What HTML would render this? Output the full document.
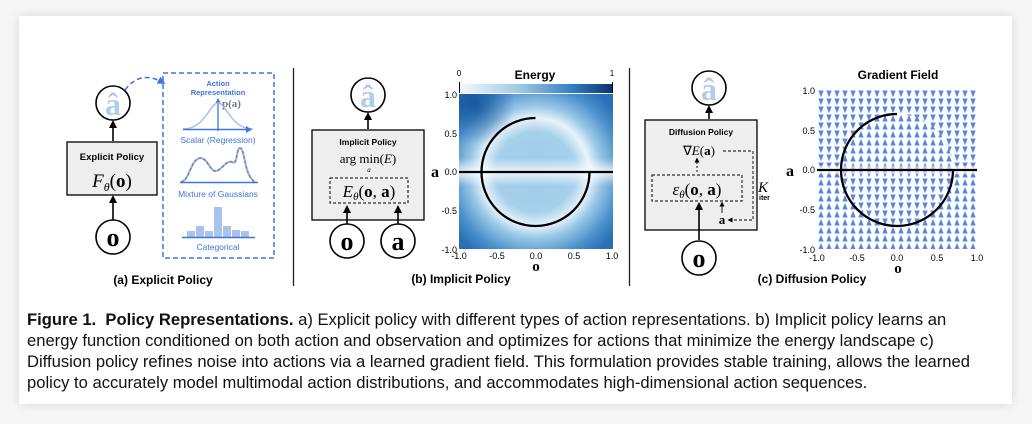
<!DOCTYPE html>
<html><head><meta charset="utf-8"><style>
html,body{margin:0;padding:0;background:#f6f6f6;}
body{width:1032px;height:424px;position:relative;overflow:hidden;font-family:"Liberation Sans",sans-serif;}
.card{position:absolute;left:19px;top:16px;width:993px;height:388px;background:#fff;box-shadow:0 0 10px rgba(0,0,0,0.12);}
.cap{position:absolute;left:27px;top:309px;width:985px;font-size:16.6px;line-height:21px;color:#111;white-space:nowrap;}
svg{position:absolute;left:0;top:0;}
.m{font-family:"Liberation Serif",serif;}
</style></head><body>
<div class="card"></div>
<svg width="1032" height="424" viewBox="0 0 1032 424">
<defs>
<marker id="ar" markerWidth="8" markerHeight="8" refX="4" refY="4" orient="auto" markerUnits="userSpaceOnUse"><path d="M0,0 L8,4 L0,8 z" fill="#000"/></marker>
<marker id="arb" markerWidth="8" markerHeight="8" refX="4" refY="4" orient="auto" markerUnits="userSpaceOnUse"><path d="M0,0 L8,4 L0,8 z" fill="#3b78d8"/></marker>
<marker id="ars" markerWidth="5" markerHeight="5" refX="2.5" refY="2.5" orient="auto" markerUnits="userSpaceOnUse"><path d="M0,0 L5,2.5 L0,5 z" fill="#000"/></marker>
<linearGradient id="cb" x1="0" x2="1"><stop offset="0" stop-color="#f4f9fd"/><stop offset="0.4" stop-color="#9dc8e4"/><stop offset="0.75" stop-color="#2f7bc0"/><stop offset="1" stop-color="#0a2f6b"/></linearGradient>
<radialGradient id="rg" cx="535.5" cy="172" r="100" gradientUnits="userSpaceOnUse">
<stop offset="0" stop-color="#9ccbe8"/><stop offset="0.4" stop-color="#a6d0ea"/><stop offset="0.54" stop-color="#e8f3fa"/><stop offset="0.66" stop-color="#9ac8e6"/><stop offset="0.85" stop-color="#4a90cc"/><stop offset="1" stop-color="#2a6fb5"/></radialGradient>
<linearGradient id="band" x1="0" y1="0" x2="0" y2="1"><stop offset="0" stop-color="#fff" stop-opacity="0"/><stop offset="0.5" stop-color="#fff" stop-opacity="0.8"/><stop offset="1" stop-color="#fff" stop-opacity="0"/></linearGradient>
<radialGradient id="tl" cx="475" cy="105" r="40" gradientUnits="userSpaceOnUse"><stop offset="0" stop-color="#124f96" stop-opacity="0.8"/><stop offset="1" stop-color="#124f96" stop-opacity="0"/></radialGradient>
<pattern id="pd" x="817" y="90" width="8" height="8" patternUnits="userSpaceOnUse"><path d="M1.3,0.5 L6.7,0.5 L4,7.3z" fill="#5b86d9"/></pattern>
<pattern id="pu" x="817" y="90" width="8" height="8" patternUnits="userSpaceOnUse"><path d="M1.3,7.5 L6.7,7.5 L4,0.7z" fill="#5b86d9"/></pattern>
<clipPath id="cup"><rect x="817" y="90" width="160" height="80"/></clipPath>
<clipPath id="clo"><rect x="817" y="170" width="160" height="79"/></clipPath>
<clipPath id="cen"><rect x="459" y="93" width="154" height="156"/></clipPath>
</defs>
<line x1="293.5" y1="68" x2="293.5" y2="286" stroke="#222" stroke-width="1.3"/>
<line x1="629.5" y1="68" x2="629.5" y2="286" stroke="#222" stroke-width="1.3"/>

<!-- Panel a -->
<circle cx="113" cy="103" r="17" fill="#fff" stroke="#000" stroke-width="1.6"/>
<text x="113" y="115" class="m" font-size="32" font-weight="bold" fill="#b3caef" text-anchor="middle">â</text>
<line x1="113" y1="141" x2="113" y2="124" stroke="#000" stroke-width="1.6" marker-end="url(#ar)"/>
<rect x="67" y="142" width="90" height="53" fill="#eeeeee" stroke="#000" stroke-width="1.3"/>
<text x="112" y="160" font-size="9.5" font-weight="bold" text-anchor="middle">Explicit Policy</text>
<text x="112" y="187" class="m" font-size="19" text-anchor="middle"><tspan font-style="italic">F</tspan><tspan font-size="12" font-style="italic" dy="4">θ</tspan><tspan dy="-4">(</tspan><tspan font-weight="bold">o</tspan>)</text>
<line x1="113" y1="220" x2="113" y2="199" stroke="#000" stroke-width="1.6" marker-end="url(#ar)"/>
<circle cx="113" cy="237" r="17" fill="#fff" stroke="#000" stroke-width="1.6"/>
<text x="113" y="246" class="m" font-size="26" font-weight="bold" text-anchor="middle">o</text>
<path d="M125,90 Q140,70 162,82" fill="none" stroke="#3b78d8" stroke-width="1.5" stroke-dasharray="5,3" marker-end="url(#arb)"/>
<rect x="163" y="73" width="111" height="185" fill="none" stroke="#3b78d8" stroke-width="1.5" stroke-dasharray="5,3"/>
<text x="218" y="86" font-size="7.5" font-weight="bold" fill="#3b78d8" text-anchor="middle">Action</text>
<text x="218" y="95" font-size="7.5" font-weight="bold" fill="#3b78d8" text-anchor="middle">Representation</text>
<line x1="218" y1="131" x2="218" y2="101" stroke="#3b78d8" stroke-width="1.3"/>
<path d="M215,104 L218,98 L221,104z" fill="#3b78d8"/>
<text x="222" y="107" class="m" font-size="11" font-weight="bold" fill="#777">p(a)</text>
<path d="M183,129 C205,129 210,103 218,103 C226,103 231,129 253,129" fill="none" stroke="#9fbcec" stroke-width="1.4"/>
<line x1="183" y1="129.5" x2="248" y2="129.5" stroke="#3b78d8" stroke-width="1.6"/>
<path d="M246,126 L252,129.5 L246,133z" fill="#3b78d8"/>
<text x="218" y="143" font-size="8.5" fill="#3b78d8" text-anchor="middle">Scalar (Regression)</text>
<path d="M181,182 C190,180 190,160 200,158 C208,158 210,172 216,171 C222,170 226,160 232,162 C238,166 236,148 240,148 C245,148 244,176 255,182" fill="none" stroke="#9fbcec" stroke-width="2.2"/>
<path d="M181,182 C190,180 190,160 200,158 C208,158 210,172 216,171 C222,170 226,160 232,162 C238,166 236,148 240,148 C245,148 244,176 255,182" fill="none" stroke="#777" stroke-width="1.1" stroke-dasharray="3,2"/>
<line x1="180" y1="182.5" x2="258" y2="182.5" stroke="#3b78d8" stroke-width="1.6"/>
<text x="218" y="197" font-size="8.5" fill="#3b78d8" text-anchor="middle">Mixture of Gaussians</text>
<g fill="#a9c3ec"><rect x="187" y="231" width="8" height="6"/><rect x="196" y="226" width="8" height="11"/><rect x="205" y="231" width="8" height="6"/><rect x="214" y="207" width="8" height="30"/><rect x="223" y="226" width="8" height="11"/><rect x="232" y="230" width="8" height="7"/><rect x="241" y="231" width="8" height="6"/></g>
<line x1="182" y1="237.5" x2="255" y2="237.5" stroke="#3b78d8" stroke-width="1.4"/>
<text x="218" y="250" font-size="8.5" fill="#3b78d8" text-anchor="middle">Categorical</text>
<text x="163" y="284" font-size="12" font-weight="bold" text-anchor="middle">(a) Explicit Policy</text>

<!-- Panel b -->
<circle cx="368" cy="95" r="17" fill="#fff" stroke="#000" stroke-width="1.6"/>
<text x="368" y="107" class="m" font-size="32" font-weight="bold" fill="#b3caef" text-anchor="middle">â</text>
<line x1="368" y1="129" x2="368" y2="116" stroke="#000" stroke-width="1.6" marker-end="url(#ar)"/>
<rect x="312" y="130" width="112" height="90" fill="#eeeeee" stroke="#000" stroke-width="1.3"/>
<text x="368" y="145" font-size="8.5" font-weight="bold" text-anchor="middle">Implicit Policy</text>
<text x="368" y="163" class="m" font-size="13" text-anchor="middle">arg min(<tspan font-style="italic">E</tspan>)</text>
<text x="369" y="172" class="m" font-size="7" font-style="italic" text-anchor="middle">a</text>
<rect x="330" y="178" width="78" height="25" fill="none" stroke="#000" stroke-width="1" stroke-dasharray="3,2"/>
<text x="369" y="197" class="m" font-size="17" text-anchor="middle"><tspan font-style="italic">E</tspan><tspan font-size="11" font-style="italic" dy="3">θ</tspan><tspan dy="-3">(</tspan><tspan font-weight="bold">o</tspan>, <tspan font-weight="bold">a</tspan>)</text>
<line x1="347" y1="224" x2="347" y2="209" stroke="#000" stroke-width="1.6" marker-end="url(#ar)"/>
<line x1="398" y1="224" x2="398" y2="209" stroke="#000" stroke-width="1.6" marker-end="url(#ar)"/>
<circle cx="347" cy="241" r="17" fill="#fff" stroke="#000" stroke-width="1.6"/>
<text x="347" y="250" class="m" font-size="26" font-weight="bold" text-anchor="middle">o</text>
<circle cx="398" cy="241" r="17" fill="#fff" stroke="#000" stroke-width="1.6"/>
<text x="398" y="250" class="m" font-size="26" font-weight="bold" text-anchor="middle">a</text>
<text x="535" y="79" font-size="12" font-weight="bold" text-anchor="middle">Energy</text>
<text x="459" y="76" font-size="8" text-anchor="middle">0</text>
<text x="612" y="76" font-size="8" text-anchor="middle">1</text>
<rect x="459" y="84" width="154" height="9" fill="url(#cb)"/>
<line x1="459.5" y1="82" x2="459.5" y2="93" stroke="#000"/><line x1="612.5" y1="82" x2="612.5" y2="93" stroke="#000"/>
<g clip-path="url(#cen)">
<rect x="459" y="94" width="154" height="155" fill="url(#rg)"/>
<rect x="459" y="158" width="154" height="28" fill="url(#band)"/>
<rect x="459" y="94" width="154" height="155" fill="url(#tl)"/>
</g>
<path d="M535.5,118 A54,54 0 1 0 589.5,172" fill="none" stroke="#000" stroke-width="2.3"/>
<line x1="459" y1="172" x2="613" y2="172" stroke="#000" stroke-width="2.3"/>
<g font-size="9" text-anchor="end"><text x="457" y="98">1.0</text><text x="457" y="137">0.5</text><text x="457" y="175">0.0</text><text x="457" y="214">-0.5</text><text x="457" y="253">-1.0</text></g>
<g font-size="9" text-anchor="middle"><text x="459" y="259">-1.0</text><text x="497" y="259">-0.5</text><text x="536" y="259">0.0</text><text x="574" y="259">0.5</text><text x="612" y="259">1.0</text></g>
<text x="431" y="177" class="m" font-size="16" font-weight="bold">a</text>
<text x="536" y="271" class="m" font-size="15" font-weight="bold" text-anchor="middle">o</text>
<text x="461" y="283" font-size="12" font-weight="bold" text-anchor="middle">(b) Implicit Policy</text>

<!-- Panel c -->
<circle cx="709" cy="88" r="17" fill="#fff" stroke="#000" stroke-width="1.6"/>
<text x="709" y="100" class="m" font-size="32" font-weight="bold" fill="#b3caef" text-anchor="middle">â</text>
<line x1="709" y1="119" x2="709" y2="109" stroke="#000" stroke-width="1.6" marker-end="url(#ar)"/>
<rect x="645" y="120" width="112" height="110" fill="#eeeeee" stroke="#000" stroke-width="1.3"/>
<text x="701" y="135" font-size="8.5" font-weight="bold" text-anchor="middle">Diffusion Policy</text>
<text x="699" y="155" class="m" font-size="13" text-anchor="middle">∇<tspan font-style="italic">E</tspan>(<tspan font-weight="bold">a</tspan>)</text>
<path d="M723,151 L753,151 L753,220 L730,220" fill="none" stroke="#000" stroke-width="0.9" stroke-dasharray="3,2" marker-end="url(#ars)"/>
<line x1="697" y1="172" x2="697" y2="160" stroke="#000" stroke-width="0.9" stroke-dasharray="2,2" marker-end="url(#ars)"/>
<rect x="652" y="175" width="90" height="26" fill="none" stroke="#000" stroke-width="1" stroke-dasharray="3,2"/>
<text x="697" y="195" class="m" font-size="17" text-anchor="middle"><tspan font-style="italic">ε</tspan><tspan font-size="11" font-style="italic" dy="3">θ</tspan><tspan dy="-3">(</tspan><tspan font-weight="bold">o</tspan>, <tspan font-weight="bold">a</tspan>)</text>
<text x="758" y="192" class="m" font-size="15" font-style="italic">K</text>
<text x="759" y="200" font-size="7" font-weight="bold">iter</text>
<line x1="722" y1="213" x2="722" y2="204" stroke="#000" stroke-width="0.9" marker-end="url(#ars)"/>
<text x="722" y="224" class="m" font-size="13" font-weight="bold" text-anchor="middle">a</text>
<line x1="699" y1="240" x2="699" y2="206" stroke="#000" stroke-width="1.6" marker-end="url(#ar)"/>
<circle cx="699" cy="258" r="17" fill="#fff" stroke="#000" stroke-width="1.6"/>
<text x="699" y="267" class="m" font-size="26" font-weight="bold" text-anchor="middle">o</text>
<text x="898" y="79" font-size="12" font-weight="bold" text-anchor="middle">Gradient Field</text>
<g clip-path="url(#cup)">
<rect x="817" y="90" width="160" height="80" fill="url(#pd)"/>
<circle cx="897" cy="170" r="56" fill="#fff"/>
<circle cx="897" cy="170" r="56" fill="url(#pu)"/>
</g>
<g clip-path="url(#clo)">
<rect x="817" y="170" width="160" height="79" fill="url(#pu)"/>
<circle cx="897" cy="170" r="56" fill="#fff"/>
<circle cx="897" cy="170" r="56" fill="url(#pd)"/>
</g>
<rect x="817" y="166" width="160" height="8" fill="#fff" opacity="0.6"/>
<path d="M897,114 A56,56 0 1 0 953,170" fill="none" stroke="#000" stroke-width="2.3"/>
<line x1="817" y1="170" x2="977" y2="170" stroke="#000" stroke-width="2.3"/>
<g font-size="9" text-anchor="end"><text x="815" y="94">1.0</text><text x="815" y="134">0.5</text><text x="815" y="173">0.0</text><text x="815" y="213">-0.5</text><text x="815" y="253">-1.0</text></g>
<g font-size="9" text-anchor="middle"><text x="817" y="261">-1.0</text><text x="857" y="261">-0.5</text><text x="897" y="261">0.0</text><text x="937" y="261">0.5</text><text x="977" y="261">1.0</text></g>
<text x="786" y="176" class="m" font-size="16" font-weight="bold">a</text>
<text x="898" y="273" class="m" font-size="15" font-weight="bold" text-anchor="middle">o</text>
<text x="812" y="283" font-size="12" font-weight="bold" text-anchor="middle">(c) Diffusion Policy</text>
</svg>
<div class="cap"><b>Figure 1.&nbsp; Policy Representations.</b> a) Explicit policy with different types of action representations. b) Implicit policy learns an<br>energy function conditioned on both action and observation and optimizes for actions that minimize the energy landscape c)<br>Diffusion policy refines noise into actions via a learned gradient field. This formulation provides stable training, allows the learned<br>policy to accurately model multimodal action distributions, and accommodates high-dimensional action sequences.</div>
</body></html>
